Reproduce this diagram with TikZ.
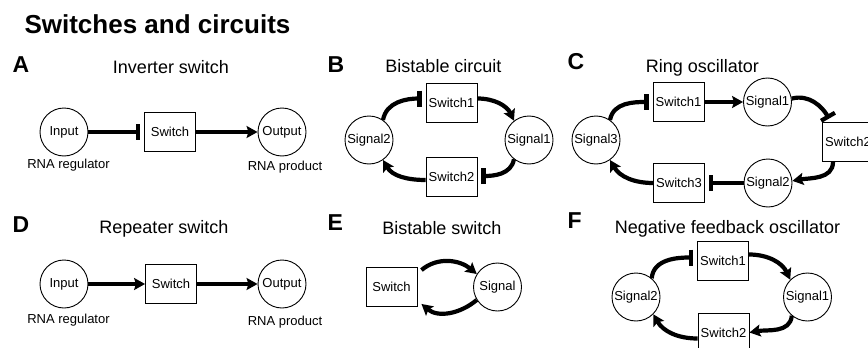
\documentclass[tikz,border=0pt]{standalone}
\usepackage{fontspec}
\setmainfont{Liberation Sans}
\usetikzlibrary{arrows.meta,calc}
\newcommand{\nodefont}{\fontsize{13}{15}\selectfont}
\tikzset{
  sig/.style={circle, draw, line width=0.9pt, minimum size=48pt, inner sep=0pt, font=\nodefont},
  sw/.style={rectangle, draw, line width=0.9pt, minimum width=51pt, minimum height=39pt, inner sep=0pt, font=\nodefont},
  act/.style={line width=4.2pt, -{Stealth[length=11pt,width=12pt,inset=2pt]}},
  inh/.style={line width=4.2pt, -{Bar[width=16pt]}, shorten >=4pt},
  subttl/.style={font=\fontsize{18}{20}\selectfont, anchor=base},
  lbl/.style={font=\fontsize{13}{15}\selectfont, anchor=base},
  panel/.style={font=\bfseries\fontsize{23}{25}\selectfont, anchor=base west},
}
\begin{document}
\begin{tikzpicture}[x=1pt,y=1pt]
\useasboundingbox (0,0) rectangle (868,-348);
\clip (0,0) rectangle (868,-348);

% heading
\node[font=\bfseries\fontsize{26}{28}\selectfont, anchor=base west] (head) at (21,-33) {Switches and circuits};

% panel letters
\node[panel] (pA) at (9,-72) {A};
\node[panel] (pB) at (324,-72) {B};
\node[panel] (pC) at (564,-69) {C};
\node[panel] (pD) at (9,-232) {D};
\node[panel] (pE) at (324,-230) {E};
\node[panel] (pF) at (564,-228) {F};

% panel titles
\node[subttl] (tA) at (171,-73) {Inverter switch};
\node[subttl] (tB) at (443.5,-72) {Bistable circuit};
\node[subttl] (tC) at (702.5,-72) {Ring oscillator};
\node[subttl] (tD) at (164,-233) {Repeater switch};
\node[subttl] (tE) at (442,-234) {Bistable switch};
\node[subttl] (tF) at (727.5,-233) {Negative feedback oscillator};

% A: inverter switch
\node[sig] (ia) at (64,-132) {Input};
\node[sw]  (sa) at (170,-132) {Switch};
\node[sig] (oa) at (282,-132) {Output};
\draw[inh] (ia) -- (sa);
\draw[act] (sa) -- (oa);
\node[lbl] (ra) at (68.5,-168) {RNA regulator};
\node[lbl] (pa) at (285,-170) {RNA product};

% D: repeater switch
\node[sig] (id) at (64,-284) {Input};
\node[sw]  (sd) at (171,-284) {Switch};
\node[sig] (od) at (282,-284) {Output};
\draw[act] (id) -- (sd);
\draw[act] (sd) -- (od);
\node[lbl] (rd) at (68.5,-323) {RNA regulator};
\node[lbl] (pd) at (285,-325) {RNA product};

% B: bistable circuit
\node[sig] (b2)  at (369,-140) {Signal2};
\node[sig] (b1)  at (529,-140) {Signal1};
\node[sw]  (bw1) at (451.5,-102.5) {Switch1};
\node[sw]  (bw2) at (451.5,-177) {Switch2};
\draw[inh] (b2.55) to[out=80,in=180] ([yshift=4pt]bw1.west);
\draw[act] ([yshift=4pt]bw1.east) to[out=0,in=115] (b1.128);
\draw[inh] (b1.232) to[out=-100,in=0] ([yshift=1pt]bw2.east);
\draw[act] ([yshift=-3pt]bw2.west) to[out=180,in=-60] (b2.-55);

% C: ring oscillator
\node[sig] (c3)  at (596,-140) {Signal3};
\node[sw]  (cw1) at (678.5,-102) {Switch1};
\node[sig] (c1)  at (767.5,-102) {Signal1};
\node[sw]  (cw2) at (848,-142) {Switch2};
\node[sig] (c2)  at (768,-183) {Signal2};
\node[sw]  (cw3) at (679,-183) {Switch3};
\draw[inh] (c3.55) to[out=80,in=180] (cw1.west);
\draw[act] (cw1) -- (c1);
\draw[inh] (c1.8) to[out=15,in=120] ([xshift=9pt]cw2.north west);
\draw[act] ([xshift=-15pt]cw2.south) to[out=-90,in=10] (c2.5);
\draw[inh] (c2) -- (cw3);
\draw[act] (cw3.west) to[out=180,in=-60] (c3.-55);

% E: bistable switch
\node[sw]  (ew) at (391.5,-287) {Switch};
\node[sig] (es) at (497.5,-287) {Signal};
\draw[act] ([xshift=4pt,yshift=-3pt]ew.north east) to[out=40,in=140] (es.148);
\draw[act] (es.212) to[out=-140,in=-40] ([xshift=4pt,yshift=3pt]ew.south east);

% F: negative feedback oscillator
\node[sw]  (fw1) at (723,-260.5) {Switch1};
\node[sig] (f2)  at (636,-297) {Signal2};
\node[sig] (f1)  at (807.5,-297) {Signal1};
\node[sw]  (fw2) at (723.5,-332.5) {Switch2};
\draw[inh] (f2.50) to[out=85,in=180] ([yshift=3pt]fw1.west);
\draw[act] ([yshift=6pt]fw1.east) to[out=0,in=115] (f1.135);
\draw[act] (f1.230) to[out=-95,in=10] (fw2.east);
\draw[act] ([yshift=-6pt]fw2.west) to[out=180,in=-60] (f2.-45);
\end{tikzpicture}
\end{document}
